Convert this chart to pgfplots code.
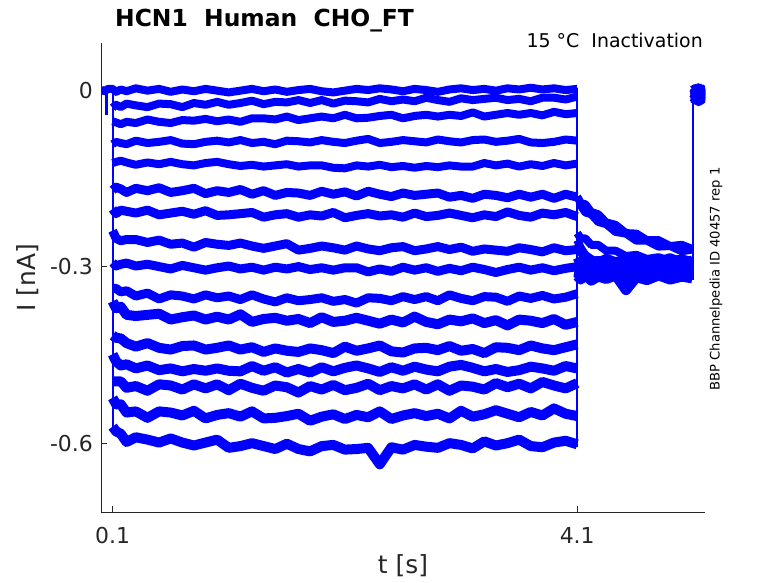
\documentclass[border=0pt]{standalone}
\usepackage{pgfplots}
\pgfplotsset{compat=1.18}
\usepackage{fontspec}
\setmainfont{DejaVu Sans}
\definecolor{axgray}{rgb}{0.15,0.15,0.15}
\definecolor{txtgray}{rgb}{0.15,0.15,0.15}
\begin{document}
\begin{tikzpicture}
\path[use as bounding box] (-101bp,-71bp) rectangle (677bp,512bp);
\begin{axis}[
  at={(0,0)}, anchor=south west,
  scale only axis, width=604bp, height=469bp,
  xmin=0, xmax=5.2, ymin=-0.717, ymax=0.08,
  axis lines*=left,
  axis line style={-, draw=axgray, line width=0.8bp},
  xtick={0.1,4.1}, xticklabels={0.1,4.1},
  ytick={-0.6,-0.3,0}, yticklabels={-0.6,-0.3,0},
  tick align=inside, major tick length=6bp,
  tick style={draw=axgray, line width=0.8bp},
  ticklabel style={font=\fontsize{22}{26}\selectfont, text=txtgray},
  xticklabel style={anchor=north, inner sep=0pt, yshift=-15bp},
  yticklabel style={anchor=east, inner sep=0pt, xshift=-8bp},
  unbounded coords=jump,
  trace/.style={blue, line width=8bp, line join=round, line cap=butt},
  traceb/.style={blue, line width=9bp, line join=round, line cap=butt},
  tracec/.style={blue, line width=10bp, line join=round, line cap=butt},
  thintrace/.style={blue, line width=2bp},
]
% T1
\addplot[trace] coordinates {(0,0.001)(0.03,-0.002)(0.06,0.002)(0.10,0.002)(0.13,-0.003)(0.17,0.001)(0.22,-0.002)(0.30,0.003)(0.40,-0.001)(0.50,0.002)(0.60,-0.003)(0.70,0.001)(0.80,-0.002)(0.90,0.002)(1.00,-0.001)(1.10,-0.004)(1.20,-0.001)(1.30,0.002)(1.40,-0.002)(1.50,0.001)(1.60,-0.003)(1.70,0.000)(1.80,0.002)(1.90,-0.002)(2.00,-0.004)(2.10,-0.001)(2.20,0.002)(2.30,0.000)(2.40,0.003)(2.50,0.001)(2.60,-0.002)(2.70,0.002)(2.80,0.000)(2.90,-0.003)(3.00,0.001)(3.10,0.003)(3.20,0.000)(3.30,0.002)(3.40,-0.001)(3.50,0.003)(3.60,0.001)(3.70,0.004)(3.80,0.001)(3.90,0.003)(4.00,0.000)(4.10,0.002)
(4.10,nan)
(4.10,-0.181)(4.13,-0.192)(4.17,-0.194)(4.22,-0.207)(4.28,-0.211)(4.35,-0.225)(4.43,-0.229)(4.52,-0.243)(4.61,-0.244)(4.70,-0.255)(4.80,-0.255)(4.90,-0.265)(5.00,-0.263)(5.09,-0.270)
(5.09,nan)
(5.095,0.002)(5.12,-0.003)(5.145,0.001)(5.17,-0.001)(5.2,0.003)};
% T2
\addplot[trace] coordinates {(0.10,-0.030)(0.13,-0.025)(0.17,-0.029)(0.22,-0.023)(0.30,-0.026)(0.40,-0.029)(0.50,-0.023)(0.60,-0.024)(0.70,-0.029)(0.80,-0.022)(0.90,-0.025)(1.00,-0.020)(1.10,-0.025)(1.20,-0.022)(1.30,-0.018)(1.40,-0.024)(1.50,-0.020)(1.60,-0.021)(1.70,-0.017)(1.80,-0.022)(1.90,-0.017)(2.00,-0.023)(2.10,-0.018)(2.20,-0.019)(2.30,-0.021)(2.40,-0.015)(2.50,-0.019)(2.60,-0.016)(2.70,-0.019)(2.80,-0.013)(2.90,-0.017)(3.00,-0.020)(3.10,-0.014)(3.20,-0.017)(3.30,-0.015)(3.40,-0.013)(3.50,-0.017)(3.60,-0.015)(3.70,-0.019)(3.80,-0.013)(3.90,-0.013)(4.00,-0.016)(4.10,-0.011)
(4.10,nan)
(4.10,-0.195)(4.13,-0.196)(4.17,-0.208)(4.22,-0.211)(4.28,-0.224)(4.35,-0.228)(4.43,-0.241)(4.52,-0.244)(4.61,-0.256)(4.70,-0.256)(4.80,-0.266)(4.90,-0.265)(5.00,-0.274)(5.09,-0.271)
(5.09,nan)
(5.095,-0.005)(5.12,-0.001)(5.145,-0.007)(5.17,-0.003)(5.2,-0.006)};
% T3
\addplot[trace] coordinates {(0.10,-0.053)(0.13,-0.055)(0.17,-0.058)(0.22,-0.054)(0.30,-0.056)(0.40,-0.050)(0.50,-0.054)(0.60,-0.056)(0.70,-0.051)(0.80,-0.052)(0.90,-0.049)(1.00,-0.053)(1.10,-0.050)(1.20,-0.054)(1.30,-0.048)(1.40,-0.048)(1.50,-0.050)(1.60,-0.045)(1.70,-0.051)(1.80,-0.048)(1.90,-0.045)(2.00,-0.048)(2.10,-0.042)(2.20,-0.048)(2.30,-0.047)(2.40,-0.044)(2.50,-0.042)(2.60,-0.048)(2.70,-0.044)(2.80,-0.042)(2.90,-0.045)(3.00,-0.042)(3.10,-0.044)(3.20,-0.038)(3.30,-0.045)(3.40,-0.042)(3.50,-0.039)(3.60,-0.042)(3.70,-0.039)(3.80,-0.043)(3.90,-0.037)(4.00,-0.041)(4.10,-0.039)
(4.10,nan)
(4.10,-0.243)(4.13,-0.252)(4.17,-0.252)(4.22,-0.263)(4.28,-0.263)(4.35,-0.273)(4.43,-0.273)(4.52,-0.282)(4.61,-0.280)(4.70,-0.287)(4.80,-0.284)(4.90,-0.290)(5.00,-0.286)(5.09,-0.291)
(5.09,nan)
(5.095,-0.009)(5.12,-0.013)(5.145,-0.008)(5.17,-0.012)(5.2,-0.010)};
% T4
\addplot[trace] coordinates {(0.10,-0.092)(0.13,-0.088)(0.17,-0.090)(0.22,-0.092)(0.30,-0.086)(0.40,-0.090)(0.50,-0.088)(0.60,-0.085)(0.70,-0.091)(0.80,-0.092)(0.90,-0.088)(1.00,-0.086)(1.10,-0.089)(1.20,-0.085)(1.30,-0.090)(1.40,-0.088)(1.50,-0.092)(1.60,-0.086)(1.70,-0.087)(1.80,-0.089)(1.90,-0.085)(2.00,-0.088)(2.10,-0.090)(2.20,-0.086)(2.30,-0.083)(2.40,-0.090)(2.50,-0.088)(2.60,-0.085)(2.70,-0.087)(2.80,-0.089)(2.90,-0.084)(3.00,-0.087)(3.10,-0.089)(3.20,-0.085)(3.30,-0.084)(3.40,-0.088)(3.50,-0.086)(3.60,-0.083)(3.70,-0.089)(3.80,-0.090)(3.90,-0.088)(4.00,-0.084)(4.10,-0.086)
(4.10,nan)
(4.10,-0.255)(4.13,-0.268)(4.17,-0.280)(4.22,-0.287)(4.28,-0.292)(4.35,-0.285)(4.43,-0.291)(4.52,-0.286)(4.61,-0.293)(4.70,-0.287)(4.80,-0.290)(4.90,-0.284)(5.00,-0.292)(5.09,-0.288)
(5.09,nan)
(5.095,-0.002)(5.12,-0.006)(5.145,0.000)(5.17,-0.005)(5.2,-0.001)};
% T5
\addplot[trace] coordinates {(0.10,-0.124)(0.13,-0.122)(0.17,-0.120)(0.22,-0.123)(0.30,-0.127)(0.40,-0.123)(0.50,-0.126)(0.60,-0.122)(0.70,-0.126)(0.80,-0.128)(0.90,-0.124)(1.00,-0.122)(1.10,-0.126)(1.20,-0.129)(1.30,-0.127)(1.40,-0.130)(1.50,-0.128)(1.60,-0.126)(1.70,-0.130)(1.80,-0.128)(1.90,-0.128)(2.00,-0.132)(2.10,-0.133)(2.20,-0.128)(2.30,-0.130)(2.40,-0.127)(2.50,-0.131)(2.60,-0.129)(2.70,-0.132)(2.80,-0.129)(2.90,-0.131)(3.00,-0.128)(3.10,-0.130)(3.20,-0.130)(3.30,-0.124)(3.40,-0.128)(3.50,-0.125)(3.60,-0.130)(3.70,-0.126)(3.80,-0.129)(3.90,-0.124)(4.00,-0.128)(4.10,-0.125)
(4.10,nan)
(4.10,-0.262)(4.13,-0.275)(4.17,-0.289)(4.22,-0.294)(4.28,-0.288)(4.35,-0.296)(4.43,-0.290)(4.52,-0.295)(4.61,-0.289)(4.70,-0.297)(4.80,-0.291)(4.90,-0.294)(5.00,-0.288)(5.09,-0.293)
(5.09,nan)
(5.095,-0.012)(5.12,-0.008)(5.145,-0.015)(5.17,-0.010)(5.2,-0.014)};
% T6
\addplot[traceb] coordinates {(0.10,-0.170)(0.13,-0.165)(0.17,-0.168)(0.22,-0.174)(0.30,-0.167)(0.40,-0.171)(0.50,-0.166)(0.60,-0.174)(0.70,-0.171)(0.80,-0.167)(0.90,-0.176)(1.00,-0.171)(1.10,-0.174)(1.20,-0.169)(1.30,-0.177)(1.40,-0.171)(1.50,-0.179)(1.60,-0.174)(1.70,-0.175)(1.80,-0.179)(1.90,-0.172)(2.00,-0.177)(2.10,-0.173)(2.20,-0.180)(2.30,-0.172)(2.40,-0.177)(2.50,-0.181)(2.60,-0.175)(2.70,-0.179)(2.80,-0.177)(2.90,-0.175)(3.00,-0.182)(3.10,-0.179)(3.20,-0.184)(3.30,-0.177)(3.40,-0.179)(3.50,-0.183)(3.60,-0.177)(3.70,-0.182)(3.80,-0.177)(3.90,-0.184)(4.00,-0.177)(4.10,-0.182)
(4.10,nan)
(4.10,-0.285)(4.13,-0.298)(4.17,-0.292)(4.22,-0.299)(4.28,-0.291)(4.35,-0.297)(4.43,-0.300)(4.52,-0.293)(4.61,-0.298)(4.70,-0.292)(4.80,-0.299)(4.90,-0.294)(5.00,-0.297)(5.09,-0.291)
(5.09,nan)
(5.095,0.000)(5.12,-0.004)(5.145,0.002)(5.17,-0.003)(5.2,0.001)};
% T7
\addplot[traceb] coordinates {(0.10,-0.202)(0.13,-0.210)(0.17,-0.204)(0.22,-0.206)(0.30,-0.209)(0.40,-0.204)(0.50,-0.212)(0.60,-0.209)(0.70,-0.206)(0.80,-0.211)(0.90,-0.205)(1.00,-0.213)(1.10,-0.212)(1.20,-0.210)(1.30,-0.208)(1.40,-0.216)(1.50,-0.212)(1.60,-0.210)(1.70,-0.216)(1.80,-0.212)(1.90,-0.214)(2.00,-0.208)(2.10,-0.217)(2.20,-0.213)(2.30,-0.210)(2.40,-0.214)(2.50,-0.212)(2.60,-0.216)(2.70,-0.209)(2.80,-0.215)(2.90,-0.213)(3.00,-0.209)(3.10,-0.213)(3.20,-0.217)(3.30,-0.212)(3.40,-0.215)(3.50,-0.207)(3.60,-0.213)(3.70,-0.216)(3.80,-0.209)(3.90,-0.212)(4.00,-0.208)(4.10,-0.215)
(4.10,nan)
(4.10,-0.293)(4.13,-0.300)(4.17,-0.295)(4.22,-0.302)(4.28,-0.296)(4.35,-0.299)(4.43,-0.303)(4.52,-0.296)(4.61,-0.301)(4.70,-0.295)(4.80,-0.300)(4.90,-0.297)(5.00,-0.302)(5.09,-0.296)
(5.09,nan)
(5.095,-0.016)(5.12,-0.011)(5.145,-0.018)(5.17,-0.013)(5.2,-0.017)};
% T8
\addplot[traceb] coordinates {(0.10,-0.239)(0.13,-0.252)(0.17,-0.256)(0.22,-0.254)(0.30,-0.254)(0.40,-0.259)(0.50,-0.255)(0.60,-0.262)(0.70,-0.260)(0.80,-0.267)(0.90,-0.259)(1.00,-0.262)(1.10,-0.264)(1.20,-0.260)(1.30,-0.265)(1.40,-0.269)(1.50,-0.265)(1.60,-0.261)(1.70,-0.272)(1.80,-0.269)(1.90,-0.265)(2.00,-0.268)(2.10,-0.272)(2.20,-0.265)(2.30,-0.270)(2.40,-0.273)(2.50,-0.268)(2.60,-0.266)(2.70,-0.273)(2.80,-0.270)(2.90,-0.266)(3.00,-0.271)(3.10,-0.267)(3.20,-0.274)(3.30,-0.270)(3.40,-0.272)(3.50,-0.274)(3.60,-0.268)(3.70,-0.271)(3.80,-0.275)(3.90,-0.268)(4.00,-0.273)(4.10,-0.271)
(4.10,nan)
(4.10,-0.296)(4.13,-0.303)(4.17,-0.298)(4.22,-0.305)(4.28,-0.297)(4.35,-0.302)(4.43,-0.299)(4.52,-0.306)(4.61,-0.298)(4.70,-0.303)(4.80,-0.297)(4.90,-0.304)(5.00,-0.299)(5.09,-0.301)
(5.09,nan)
(5.095,-0.006)(5.12,-0.010)(5.145,-0.004)(5.17,-0.009)(5.2,-0.005)};
% T9
\addplot[traceb] coordinates {(0.10,-0.293)(0.13,-0.299)(0.17,-0.296)(0.22,-0.294)(0.30,-0.299)(0.40,-0.296)(0.50,-0.300)(0.60,-0.304)(0.70,-0.298)(0.80,-0.302)(0.90,-0.306)(1.00,-0.302)(1.10,-0.299)(1.20,-0.304)(1.30,-0.301)(1.40,-0.306)(1.50,-0.301)(1.60,-0.304)(1.70,-0.300)(1.80,-0.305)(1.90,-0.302)(2.00,-0.306)(2.10,-0.302)(2.20,-0.302)(2.30,-0.309)(2.40,-0.304)(2.50,-0.308)(2.60,-0.301)(2.70,-0.306)(2.80,-0.302)(2.90,-0.308)(3.00,-0.303)(3.10,-0.307)(3.20,-0.301)(3.30,-0.305)(3.40,-0.310)(3.50,-0.305)(3.60,-0.301)(3.70,-0.306)(3.80,-0.302)(3.90,-0.307)(4.00,-0.303)(4.10,-0.300)
(4.10,nan)
(4.10,-0.299)(4.13,-0.305)(4.17,-0.300)(4.22,-0.307)(4.28,-0.301)(4.35,-0.298)(4.43,-0.306)(4.52,-0.300)(4.61,-0.305)(4.70,-0.299)(4.80,-0.307)(4.90,-0.301)(5.00,-0.304)(5.09,-0.300)
(5.09,nan)
(5.095,0.003)(5.12,-0.001)(5.145,0.004)(5.17,0.000)(5.2,0.002)};
% T10
\addplot[traceb] coordinates {(0.10,-0.337)(0.13,-0.337)(0.17,-0.343)(0.22,-0.341)(0.30,-0.350)(0.40,-0.345)(0.50,-0.355)(0.60,-0.348)(0.70,-0.350)(0.80,-0.355)(0.90,-0.348)(1.00,-0.353)(1.10,-0.350)(1.20,-0.356)(1.30,-0.348)(1.40,-0.355)(1.50,-0.360)(1.60,-0.353)(1.70,-0.358)(1.80,-0.356)(1.90,-0.353)(2.00,-0.359)(2.10,-0.356)(2.20,-0.362)(2.30,-0.353)(2.40,-0.354)(2.50,-0.358)(2.60,-0.351)(2.70,-0.356)(2.80,-0.351)(2.90,-0.358)(3.00,-0.348)(3.10,-0.354)(3.20,-0.358)(3.30,-0.351)(3.40,-0.352)(3.50,-0.359)(3.60,-0.350)(3.70,-0.354)(3.80,-0.349)(3.90,-0.355)(4.00,-0.352)(4.10,-0.346)
(4.10,nan)
(4.10,-0.301)(4.13,-0.307)(4.17,-0.302)(4.22,-0.310)(4.28,-0.303)(4.35,-0.308)(4.43,-0.302)(4.52,-0.309)(4.61,-0.304)(4.70,-0.301)(4.80,-0.310)(4.90,-0.303)(5.00,-0.308)(5.09,-0.302)
(5.09,nan)
(5.095,-0.014)(5.12,-0.017)(5.145,-0.012)(5.17,-0.016)(5.2,-0.013)};
% T11
\addplot[tracec] coordinates {(0.10,-0.359)(0.13,-0.371)(0.17,-0.368)(0.22,-0.382)(0.30,-0.384)(0.40,-0.382)(0.50,-0.380)(0.60,-0.390)(0.70,-0.386)(0.80,-0.383)(0.90,-0.390)(1.00,-0.385)(1.10,-0.390)(1.20,-0.381)(1.30,-0.394)(1.40,-0.389)(1.50,-0.387)(1.60,-0.392)(1.70,-0.389)(1.80,-0.396)(1.90,-0.386)(2.00,-0.394)(2.10,-0.392)(2.20,-0.387)(2.30,-0.392)(2.40,-0.397)(2.50,-0.390)(2.60,-0.395)(2.70,-0.385)(2.80,-0.394)(2.90,-0.398)(3.00,-0.390)(3.10,-0.393)(3.20,-0.388)(3.30,-0.396)(3.40,-0.391)(3.50,-0.400)(3.60,-0.390)(3.70,-0.392)(3.80,-0.396)(3.90,-0.389)(4.00,-0.399)(4.10,-0.394)
(4.10,nan)
(4.10,-0.303)(4.13,-0.309)(4.17,-0.304)(4.22,-0.302)(4.28,-0.311)(4.35,-0.305)(4.43,-0.310)(4.52,-0.304)(4.61,-0.311)(4.70,-0.306)(4.80,-0.303)(4.90,-0.310)(5.00,-0.305)(5.09,-0.309)
(5.09,nan)
(5.095,-0.007)(5.12,-0.003)(5.145,-0.009)(5.17,-0.004)(5.2,-0.008)};
% T12
\addplot[tracec] coordinates {(0.10,-0.417)(0.13,-0.421)(0.17,-0.422)(0.22,-0.430)(0.30,-0.436)(0.40,-0.430)(0.50,-0.438)(0.60,-0.441)(0.70,-0.435)(0.80,-0.434)(0.90,-0.441)(1.00,-0.438)(1.10,-0.434)(1.20,-0.441)(1.30,-0.437)(1.40,-0.445)(1.50,-0.439)(1.60,-0.443)(1.70,-0.445)(1.80,-0.439)(1.90,-0.442)(2.00,-0.447)(2.10,-0.436)(2.20,-0.443)(2.30,-0.439)(2.40,-0.434)(2.50,-0.444)(2.60,-0.446)(2.70,-0.439)(2.80,-0.438)(2.90,-0.442)(3.00,-0.435)(3.10,-0.443)(3.20,-0.440)(3.30,-0.447)(3.40,-0.437)(3.50,-0.438)(3.60,-0.442)(3.70,-0.434)(3.80,-0.439)(3.90,-0.442)(4.00,-0.437)(4.10,-0.432)
(4.10,nan)
(4.10,-0.305)(4.13,-0.311)(4.17,-0.306)(4.22,-0.313)(4.28,-0.307)(4.35,-0.312)(4.43,-0.305)(4.52,-0.314)(4.61,-0.308)(4.70,-0.311)(4.80,-0.306)(4.90,-0.313)(5.00,-0.307)(5.09,-0.310)
(5.09,nan)
(5.095,-0.011)(5.12,-0.015)(5.145,-0.010)(5.17,-0.014)(5.2,-0.012)};
% T13
\addplot[tracec] coordinates {(0.10,-0.449)(0.13,-0.461)(0.17,-0.468)(0.22,-0.466)(0.30,-0.473)(0.40,-0.468)(0.50,-0.476)(0.60,-0.473)(0.70,-0.478)(0.80,-0.474)(0.90,-0.477)(1.00,-0.473)(1.10,-0.477)(1.20,-0.478)(1.30,-0.469)(1.40,-0.477)(1.50,-0.471)(1.60,-0.480)(1.70,-0.474)(1.80,-0.480)(1.90,-0.471)(2.00,-0.478)(2.10,-0.472)(2.20,-0.468)(2.30,-0.473)(2.40,-0.479)(2.50,-0.471)(2.60,-0.477)(2.70,-0.470)(2.80,-0.475)(2.90,-0.478)(3.00,-0.470)(3.10,-0.467)(3.20,-0.472)(3.30,-0.478)(3.40,-0.474)(3.50,-0.479)(3.60,-0.476)(3.70,-0.470)(3.80,-0.473)(3.90,-0.477)(4.00,-0.469)(4.10,-0.473)
(4.10,nan)
(4.10,-0.307)(4.13,-0.313)(4.17,-0.309)(4.22,-0.315)(4.28,-0.308)(4.35,-0.313)(4.43,-0.310)(4.52,-0.317)(4.61,-0.309)(4.70,-0.314)(4.80,-0.308)(4.90,-0.315)(5.00,-0.311)(5.09,-0.312)
(5.09,nan)
(5.095,-0.001)(5.12,0.002)(5.145,-0.003)(5.17,0.001)(5.2,-0.002)};
% T14
\addplot[tracec] coordinates {(0.10,-0.495)(0.13,-0.495)(0.17,-0.495)(0.22,-0.506)(0.30,-0.503)(0.40,-0.511)(0.50,-0.500)(0.60,-0.502)(0.70,-0.509)(0.80,-0.500)(0.90,-0.507)(1.00,-0.500)(1.10,-0.510)(1.20,-0.499)(1.30,-0.506)(1.40,-0.511)(1.50,-0.502)(1.60,-0.505)(1.70,-0.514)(1.80,-0.503)(1.90,-0.509)(2.00,-0.501)(2.10,-0.510)(2.20,-0.506)(2.30,-0.499)(2.40,-0.510)(2.50,-0.503)(2.60,-0.507)(2.70,-0.500)(2.80,-0.509)(2.90,-0.500)(3.00,-0.511)(3.10,-0.502)(3.20,-0.504)(3.30,-0.509)(3.40,-0.498)(3.50,-0.505)(3.60,-0.499)(3.70,-0.507)(3.80,-0.496)(3.90,-0.502)(4.00,-0.507)(4.10,-0.498)
(4.10,nan)
(4.10,-0.309)(4.13,-0.316)(4.17,-0.310)(4.22,-0.318)(4.28,-0.311)(4.35,-0.308)(4.43,-0.317)(4.52,-0.312)(4.61,-0.319)(4.70,-0.310)(4.80,-0.315)(4.90,-0.309)(5.00,-0.316)(5.09,-0.312)
(5.09,nan)
(5.095,-0.017)(5.12,-0.013)(5.145,-0.019)(5.17,-0.014)(5.2,-0.016)};
% T15
\addplot[tracec] coordinates {(0.10,-0.523)(0.13,-0.534)(0.17,-0.534)(0.22,-0.548)(0.30,-0.546)(0.40,-0.557)(0.50,-0.546)(0.60,-0.548)(0.70,-0.553)(0.80,-0.545)(0.90,-0.558)(1.00,-0.552)(1.10,-0.549)(1.20,-0.555)(1.30,-0.546)(1.40,-0.558)(1.50,-0.557)(1.60,-0.554)(1.70,-0.550)(1.80,-0.562)(1.90,-0.555)(2.00,-0.551)(2.10,-0.559)(2.20,-0.552)(2.30,-0.556)(2.40,-0.546)(2.50,-0.559)(2.60,-0.553)(2.70,-0.549)(2.80,-0.554)(2.90,-0.550)(3.00,-0.558)(3.10,-0.545)(3.20,-0.555)(3.30,-0.551)(3.40,-0.544)(3.50,-0.550)(3.60,-0.556)(3.70,-0.547)(3.80,-0.553)(3.90,-0.541)(4.00,-0.550)(4.10,-0.554)
(4.10,nan)
(4.10,-0.311)(4.13,-0.318)(4.17,-0.312)(4.22,-0.320)(4.28,-0.313)(4.35,-0.317)(4.43,-0.311)(4.52,-0.322)(4.61,-0.313)(4.70,-0.318)(4.80,-0.312)(4.90,-0.319)(5.00,-0.314)(5.09,-0.316)
(5.09,nan)
(5.095,-0.004)(5.12,-0.008)(5.145,-0.002)(5.17,-0.007)(5.2,-0.003)};
% T16
\addplot[tracec] coordinates {(0.10,-0.572)(0.13,-0.580)(0.17,-0.584)(0.22,-0.598)(0.30,-0.590)(0.40,-0.594)(0.50,-0.599)(0.60,-0.592)(0.70,-0.599)(0.80,-0.604)(0.90,-0.599)(1.00,-0.594)(1.10,-0.608)(1.20,-0.605)(1.30,-0.600)(1.40,-0.605)(1.50,-0.610)(1.60,-0.601)(1.70,-0.610)(1.80,-0.614)(1.90,-0.605)(2.00,-0.603)(2.10,-0.611)(2.20,-0.610)(2.30,-0.608)(2.40,-0.636)(2.50,-0.607)(2.60,-0.611)(2.70,-0.603)(2.80,-0.606)(2.90,-0.608)(3.00,-0.600)(3.10,-0.603)(3.20,-0.609)(3.30,-0.597)(3.40,-0.604)(3.50,-0.600)(3.60,-0.594)(3.70,-0.605)(3.80,-0.607)(3.90,-0.599)(4.00,-0.596)(4.10,-0.602)
(4.10,nan)
(4.10,-0.316)(4.13,-0.322)(4.17,-0.314)(4.22,-0.324)(4.28,-0.317)(4.35,-0.321)(4.43,-0.315)(4.52,-0.340)(4.61,-0.318)(4.70,-0.323)(4.80,-0.315)(4.90,-0.322)(5.00,-0.317)(5.09,-0.320)
(5.09,nan)
(5.095,-0.009)(5.12,-0.005)(5.145,-0.011)(5.17,-0.006)(5.2,-0.010)};
% step edges and artefact
\addplot[thintrace] coordinates {(0.1,0.003)(0.1,-0.578)};
\addplot[thintrace] coordinates {(4.1,0.004)(4.1,-0.606)};
\addplot[thintrace] coordinates {(5.093,-0.322)(5.093,0.006)};
\addplot[blue, line width=3bp] coordinates {(0.045,0)(0.045,-0.042)};
\end{axis}
\node[anchor=base west, inner sep=0pt, font=\fontsize{23.5}{28}\selectfont\bfseries, text=black] at (14bp,485bp) {HCN1~~Human~~CHO\_FT};
\node[anchor=base east, inner sep=0pt, font=\fontsize{19}{23}\selectfont, text=black] at (602bp,464bp) {15~°C~~Inactivation};
\node[rotate=90, inner sep=0pt, font=\fontsize{25}{30}\selectfont, text=txtgray] at (-73bp,234.5bp) {I [nA]};
\node[inner sep=0pt, font=\fontsize{25}{30}\selectfont, text=txtgray] at (302bp,-54bp) {t [s]};
\node[rotate=90, inner sep=0pt, font=\fontsize{13.2}{16}\selectfont, text=black] at (615bp,233bp) {BBP Channelpedia ID 40457 rep 1};
\end{tikzpicture}
\end{document}
